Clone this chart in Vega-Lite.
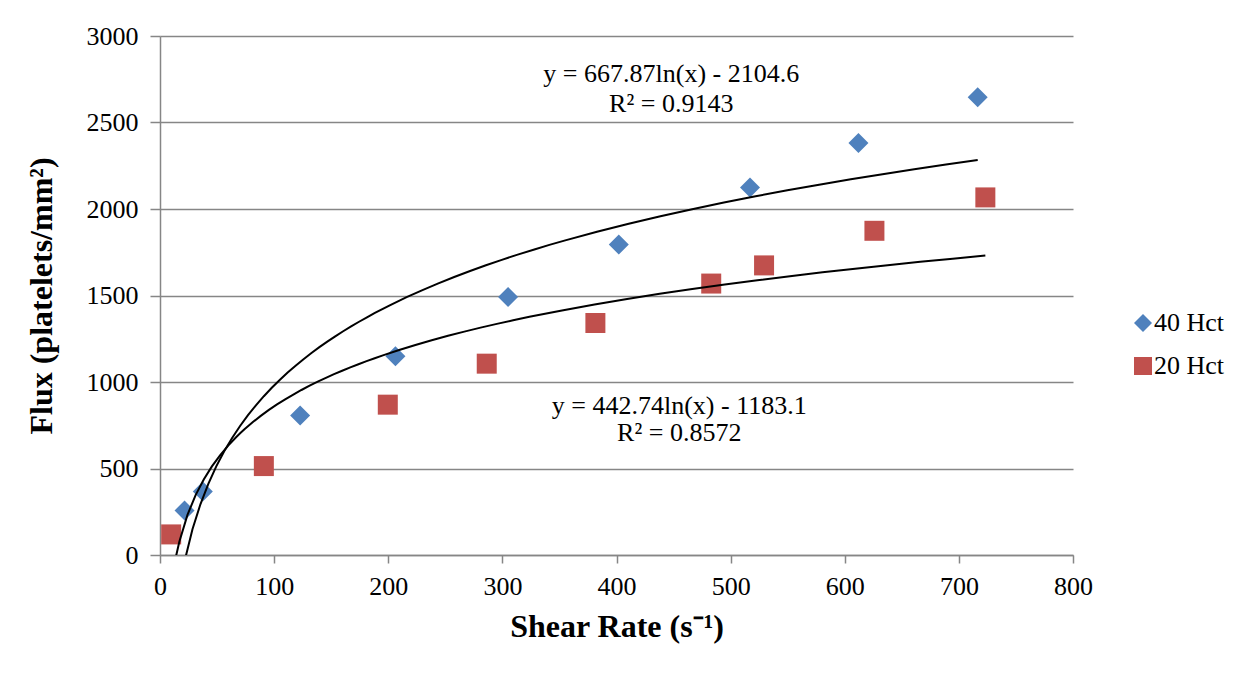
{
  "$schema": "https://vega.github.io/schema/vega-lite/v6.json",
  "width": 913,
  "height": 519,
  "autosize": {"type": "none"},
  "padding": {"left": 160, "top": 36, "right": 182, "bottom": 120},
  "background": "white",
  "data": {
    "values": [
      {"series": "40 Hct", "shear": 21.5, "flux": 257},
      {"series": "40 Hct", "shear": 37.5, "flux": 367},
      {"series": "40 Hct", "shear": 122.8, "flux": 807},
      {"series": "40 Hct", "shear": 206.3, "flux": 1149},
      {"series": "40 Hct", "shear": 305, "flux": 1492},
      {"series": "40 Hct", "shear": 402, "flux": 1795},
      {"series": "40 Hct", "shear": 517, "flux": 2125},
      {"series": "40 Hct", "shear": 612, "flux": 2381},
      {"series": "40 Hct", "shear": 716.5, "flux": 2646},
      {"series": "20 Hct", "shear": 9.8, "flux": 119},
      {"series": "20 Hct", "shear": 91, "flux": 514},
      {"series": "20 Hct", "shear": 199.6, "flux": 869},
      {"series": "20 Hct", "shear": 286.3, "flux": 1106},
      {"series": "20 Hct", "shear": 381.5, "flux": 1341},
      {"series": "20 Hct", "shear": 483, "flux": 1569},
      {"series": "20 Hct", "shear": 529.3, "flux": 1674},
      {"series": "20 Hct", "shear": 626, "flux": 1874},
      {"series": "20 Hct", "shear": 723.2, "flux": 2067}
    ]
  },
  "encoding": {
    "x": {
      "field": "shear",
      "type": "quantitative",
      "title": "Shear Rate (s⁻¹)",
      "scale": {"domain": [0, 800], "nice": false, "zero": false},
      "axis": {
        "values": [0, 100, 200, 300, 400, 500, 600, 700, 800],
        "format": "d",
        "grid": false,
        "tickSize": 8,
        "labelPadding": 10,
        "titlePadding": 12,
        "labelFlush": false
      }
    },
    "y": {
      "field": "flux",
      "type": "quantitative",
      "title": "Flux (platelets/mm²)",
      "scale": {"domain": [0, 3000], "nice": false},
      "axis": {
        "values": [0, 500, 1000, 1500, 2000, 2500, 3000],
        "format": "d",
        "grid": true,
        "tickSize": 10,
        "labelPadding": 12,
        "titlePadding": 28,
        "labelFlush": false
      }
    }
  },
  "layer": [
    {
      "mark": {"type": "point", "filled": true, "opacity": 1, "size": 400, "strokeWidth": 0},
      "encoding": {
        "color": {
          "field": "series",
          "type": "nominal",
          "scale": {"domain": ["40 Hct", "20 Hct"], "range": ["#4F81BD", "#C0504D"]},
          "legend": {
            "title": null,
            "orient": "none",
            "legendX": 970,
            "legendY": 274,
            "padding": 0,
            "symbolSize": 324,
            "symbolStrokeWidth": 0,
            "labelFont": "Liberation Serif",
            "labelFontSize": 26,
            "labelColor": "black",
            "labelOffset": -2,
            "rowPadding": 17
          }
        },
        "shape": {
          "field": "series",
          "type": "nominal",
          "scale": {"domain": ["40 Hct", "20 Hct"], "range": ["diamond", "square"]},
          "legend": null
        }
      }
    },
    {
      "transform": [
        {"regression": "flux", "on": "shear", "method": "log", "groupby": ["series"]}
      ],
      "mark": {"type": "line", "color": "black", "strokeWidth": 2, "clip": true},
      "encoding": {
        "detail": {"field": "series", "type": "nominal"}
      }
    },
    {
      "data": {
        "values": [
          {"shear": 448, "flux": 2736, "label": "y = 667.87ln(x) - 2104.6"},
          {"shear": 448, "flux": 2562, "label": "R² = 0.9143"},
          {"shear": 455, "flux": 817, "label": "y = 442.74ln(x) - 1183.1"},
          {"shear": 455, "flux": 657, "label": "R² = 0.8572"}
        ]
      },
      "mark": {
        "type": "text",
        "font": "Liberation Serif",
        "fontSize": 26,
        "color": "black",
        "align": "center",
        "baseline": "alphabetic"
      },
      "encoding": {
        "text": {"field": "label", "type": "nominal"}
      }
    }
  ],
  "config": {
    "view": {"stroke": null},
    "axis": {
      "domainColor": "#868686",
      "domainWidth": 1.5,
      "tickColor": "#868686",
      "tickWidth": 1.5,
      "gridColor": "#868686",
      "gridWidth": 1.5,
      "labelFont": "Liberation Serif",
      "labelFontSize": 26,
      "labelColor": "black",
      "titleFont": "Liberation Serif",
      "titleFontSize": 32,
      "titleFontWeight": "bold",
      "titleColor": "black"
    }
  }
}
